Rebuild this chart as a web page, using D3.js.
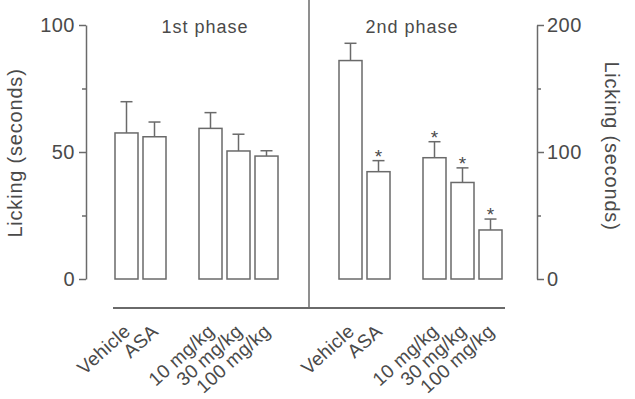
<!DOCTYPE html>
<html>
<head>
<meta charset="utf-8">
<script src="https://cdn.jsdelivr.net/npm/d3@7"></script>
<style>
  body { margin: 0; background: #fff; }
  text { font-family: "Liberation Sans", Arial, sans-serif; fill: #4a4a4a; }
</style>
</head>
<body>
<svg id="chart"></svg>
<script>
// groups and their slot on the x axis (gaps left empty)
var labels = ["Vehicle", "ASA", "10 mg/kg", "30 mg/kg", "100 mg/kg"];
var slots1 = [0, 1, 3, 4, 5];
var slots2 = [8, 9, 11, 12, 13];

// 1st phase, left axis (0-100 s)
var phase1Mean = [57.5, 56, 59.3, 50.4, 48.4];
var phase1Err = [12.3, 5.8, 6.2, 6.6, 2.1];

// 2nd phase, right axis (0-200 s)
var phase2Mean = [172, 84.5, 95.5, 76, 38.6];
var phase2Err = [13.6, 8.7, 12.6, 11.5, 8.6];
var phase2Sig = [false, true, true, true, true];

var leftTicks = [0, 50, 100],
    leftMinor = [25, 75],
    rightTicks = [0, 100, 200],
    rightMinor = [50, 150];

var width = 635,
    height = 399;

var svg = d3.select("#chart")
  .attr("width", width)
  .attr("height", height);

var lineColor = "#6a6a6a";

var x = d3.scaleLinear().domain([0, 13]).range([115, 479]);
var barW = 23;
var yLeft = d3.scaleLinear().domain([0, 100]).range([279, 25]);
var yRight = d3.scaleLinear().domain([0, 200]).range([279, 25]);

function styleAxis(g) {
  g.select(".domain").attr("stroke", lineColor).attr("stroke-width", 1.5);
  g.selectAll(".tick line").attr("stroke", lineColor).attr("stroke-width", 1.5);
  g.selectAll(".tick text")
    .style("font-family", "'Liberation Sans', Arial, sans-serif")
    .style("font-size", "20px")
    .style("letter-spacing", "0.5px")
    .attr("fill", "#4a4a4a");
}

// left axis
var gl = svg.append("g")
  .attr("transform", "translate(86,0)")
  .call(d3.axisLeft(yLeft).tickValues(leftTicks).tickSize(7).tickSizeOuter(0).tickPadding(4));
styleAxis(gl);
svg.append("g")
  .attr("transform", "translate(86,0)")
  .call(d3.axisLeft(yLeft).tickValues(leftMinor).tickSize(4).tickSizeOuter(0).tickFormat(""))
  .call(function (g) { g.select(".domain").remove(); styleAxis(g); });

// right axis
var gr = svg.append("g")
  .attr("transform", "translate(537,0)")
  .call(d3.axisRight(yRight).tickValues(rightTicks).tickSize(7).tickSizeOuter(0).tickPadding(3));
styleAxis(gr);
svg.append("g")
  .attr("transform", "translate(537,0)")
  .call(d3.axisRight(yRight).tickValues(rightMinor).tickSize(4).tickSizeOuter(0).tickFormat(""))
  .call(function (g) { g.select(".domain").remove(); styleAxis(g); });

// axis titles
svg.append("text")
  .attr("transform", "translate(22,153) rotate(-90)")
  .attr("text-anchor", "middle")
  .style("font-size", "20px")
  .style("letter-spacing", "0.8px")
  .text("Licking (seconds)");

svg.append("text")
  .attr("transform", "translate(605,146) rotate(90)")
  .attr("text-anchor", "middle")
  .style("font-size", "20px")
  .style("letter-spacing", "0.8px")
  .text("Licking (seconds)");

// baseline and phase divider
svg.append("line")
  .attr("x1", 113).attr("x2", 505)
  .attr("y1", 308).attr("y2", 308)
  .attr("stroke", lineColor).attr("stroke-width", 1.8);

svg.append("line")
  .attr("x1", 309).attr("x2", 309)
  .attr("y1", 0).attr("y2", 308)
  .attr("stroke", lineColor).attr("stroke-width", 1.5);

// phase titles
svg.append("text")
  .attr("x", 205).attr("y", 33)
  .attr("text-anchor", "middle")
  .style("font-size", "18px")
  .style("letter-spacing", "1px")
  .text("1st phase");

svg.append("text")
  .attr("x", 412).attr("y", 33)
  .attr("text-anchor", "middle")
  .style("font-size", "18px")
  .style("letter-spacing", "1px")
  .text("2nd phase");

function drawPhase(slots, mean, err, sig, y) {
  var data = slots.map(function (s, i) {
    return { slot: s, mean: mean[i], err: err[i], sig: sig ? sig[i] : false, label: labels[i] };
  });

  var g = svg.append("g");

  g.selectAll(".err")
    .data(data)
    .enter().append("line")
    .attr("x1", function (d) { return x(d.slot) + barW / 2; })
    .attr("x2", function (d) { return x(d.slot) + barW / 2; })
    .attr("y1", function (d) { return y(d.mean); })
    .attr("y2", function (d) { return y(d.mean + d.err); })
    .attr("stroke", lineColor).attr("stroke-width", 1.5);

  g.selectAll(".cap")
    .data(data)
    .enter().append("line")
    .attr("x1", function (d) { return x(d.slot) + barW / 2 - 6; })
    .attr("x2", function (d) { return x(d.slot) + barW / 2 + 6; })
    .attr("y1", function (d) { return y(d.mean + d.err); })
    .attr("y2", function (d) { return y(d.mean + d.err); })
    .attr("stroke", lineColor).attr("stroke-width", 1.5);

  g.selectAll(".bar")
    .data(data)
    .enter().append("rect")
    .attr("x", function (d) { return x(d.slot); })
    .attr("y", function (d) { return y(d.mean); })
    .attr("width", barW)
    .attr("height", function (d) { return y(0) - y(d.mean); })
    .attr("fill", "#fff")
    .attr("stroke", lineColor).attr("stroke-width", 1.5);

  g.selectAll(".star")
    .data(data.filter(function (d) { return d.sig; }))
    .enter().append("text")
    .attr("x", function (d) { return x(d.slot) + barW / 2; })
    .attr("y", function (d) { return y(d.mean + d.err) + 2; })
    .attr("text-anchor", "middle")
    .style("font-size", "19px")
    .text("*");

  g.selectAll(".xlabel")
    .data(data)
    .enter().append("text")
    .attr("transform", function (d) {
      return "translate(" + (x(d.slot) + barW / 2 + 5) + ",333) rotate(-42)";
    })
    .attr("text-anchor", "end")
    .style("font-size", "19px")
    .style("letter-spacing", "0.3px")
    .text(function (d) { return d.label; });
}

drawPhase(slots1, phase1Mean, phase1Err, null, yLeft);
drawPhase(slots2, phase2Mean, phase2Err, phase2Sig, yRight);
</script>
</body>
</html>
